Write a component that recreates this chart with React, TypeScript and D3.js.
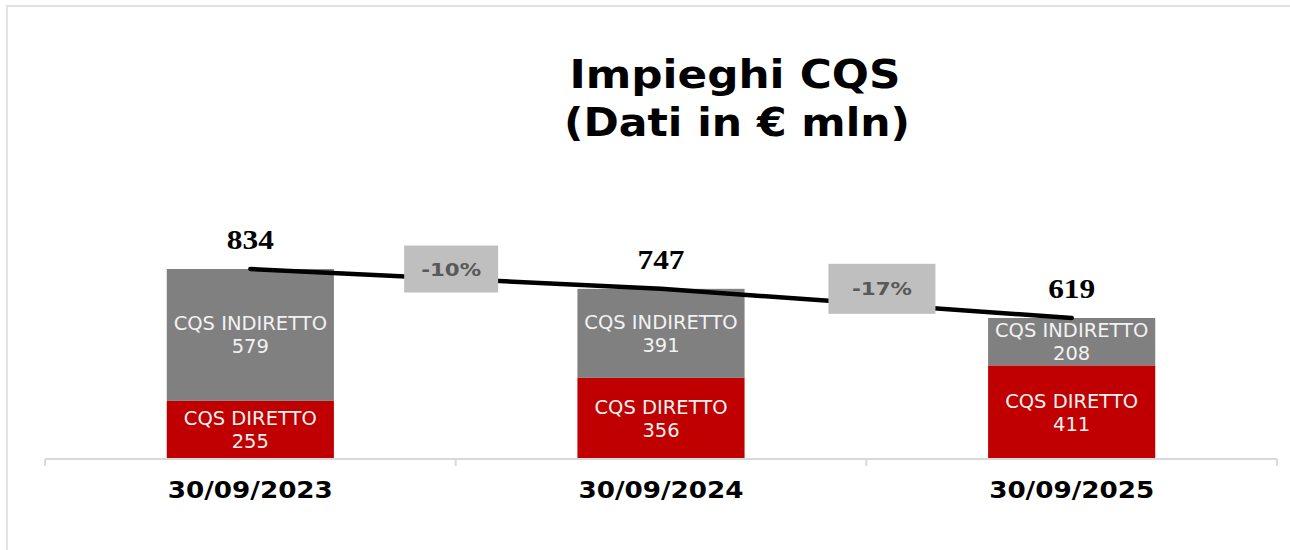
import * as d3 from "d3";
import React from "react";

// chart data
const categories = ["30/09/2023", "30/09/2024", "30/09/2025"];
const diretto = [255, 356, 411];
const indiretto = [579, 391, 208];
const changeLabels = ["-10%", "-17%"];

const titleLines = ["Impieghi CQS", "(Dati in € mln)"];
const seriesNames = { diretto: "CQS DIRETTO", indiretto: "CQS INDIRETTO" };

// layout
const width = 1290;
const height = 550;
const axisLeft = 45;
const axisRight = 1277;
const baseY = 459;
const yTop = 231.2;
const barFrac = 0.407;
// where the change boxes sit, in category steps from the first center
const changeOffsets = [0.489, 1.538];
const changeBoxSizes = [
  { w: 94, h: 47 },
  { w: 107, h: 50 },
];

const colors = {
  diretto: "#c00000",
  indiretto: "#808080",
  box: "#bfbfbf",
  boxText: "#595959",
  axis: "#d9d9d9",
  border: "#d9d9d9",
};

const sans = "Verdana, 'DejaVu Sans', sans-serif";
const serif = "'Times New Roman', 'Liberation Serif', serif";

const totals = diretto.map((d, i) => d + indiretto[i]);

const App = () => {
  const x = d3
    .scaleBand<string>()
    .domain(categories)
    .range([axisLeft, axisRight])
    .paddingInner(1 - barFrac)
    .paddingOuter((1 - barFrac) / 2);

  const y = d3.scaleLinear().domain([0, 1000]).range([baseY, yTop]);

  const step = x.step();
  const bw = x.bandwidth();
  const cx = (c: string) => (x(c) as number) + bw / 2;

  const boundaries = d3.range(categories.length + 1).map((i) => axisLeft + i * step);

  const line = d3
    .line<number>()
    .x((_, i) => cx(categories[i]))
    .y((d) => y(d));

  const segLabel = (
    key: string,
    xc: number,
    y0: number,
    y1: number,
    name: string,
    value: number
  ) => {
    const mid = (y0 + y1) / 2;
    return (
      <text
        key={key}
        x={xc}
        textAnchor="middle"
        fill="#f2f2f2"
        fontFamily={sans}
        fontSize={19.5}
      >
        <tspan x={xc} y={mid - 4.5}>
          {name}
        </tspan>
        <tspan x={xc} y={mid + 18.5}>
          {value}
        </tspan>
      </text>
    );
  };

  return (
    <svg
      width={width}
      height={height}
      style={{ position: "absolute", left: 0, top: 0, background: "#fff" }}
    >
      <rect
        x={7}
        y={6}
        width={width + 10}
        height={height + 10}
        fill="none"
        stroke={colors.border}
        strokeWidth={1.5}
      />

      <g fontFamily={sans} fontWeight="bold" fill="#000" textAnchor="middle">
        <text x={735} y={87.7} fontSize={39.5} textLength={331} lengthAdjust="spacingAndGlyphs">
          {titleLines[0]}
        </text>
        <text x={737} y={136} fontSize={39.5} textLength={346} lengthAdjust="spacingAndGlyphs">
          {titleLines[1]}
        </text>
      </g>

      {categories.map((c, i) => (
        <g key={c}>
          <rect
            x={x(c)}
            y={y(diretto[i])}
            width={bw}
            height={baseY - y(diretto[i])}
            fill={colors.diretto}
          />
          <rect
            x={x(c)}
            y={y(totals[i])}
            width={bw}
            height={y(diretto[i]) - y(totals[i])}
            fill={colors.indiretto}
          />
          {segLabel("d" + i, cx(c), y(diretto[i]), baseY, seriesNames.diretto, diretto[i])}
          {segLabel("n" + i, cx(c), y(totals[i]), y(diretto[i]), seriesNames.indiretto, indiretto[i])}
        </g>
      ))}

      <path
        d={line(totals) || ""}
        fill="none"
        stroke="#000"
        strokeWidth={4.5}
        strokeLinecap="round"
      />

      {changeLabels.map((lab, i) => {
        const bx = cx(categories[0]) + changeOffsets[i] * step;
        const by = y(totals[i]);
        const s = changeBoxSizes[i];
        return (
          <g key={lab}>
            <rect x={bx - s.w / 2} y={by - s.h / 2} width={s.w} height={s.h} fill={colors.box} />
            <text
              x={bx}
              y={by + 6.5}
              textAnchor="middle"
              fontFamily={sans}
              fontWeight="bold"
              fontSize={17.5}
              fill={colors.boxText}
              textLength={60}
              lengthAdjust="spacingAndGlyphs"
            >
              {lab}
            </text>
          </g>
        );
      })}

      {totals.map((t, i) => (
        <text
          key={"t" + i}
          x={cx(categories[i])}
          y={y(t) - 20}
          textAnchor="middle"
          fontFamily={serif}
          fontWeight="bold"
          fontSize={26.5}
          fill="#000"
          textLength={47}
          lengthAdjust="spacingAndGlyphs"
        >
          {t}
        </text>
      ))}

      <g stroke={colors.axis} strokeWidth={2} fill="none">
        <line x1={axisLeft} x2={axisRight} y1={baseY} y2={baseY} />
        {boundaries.map((b, i) => (
          <line key={i} x1={b} x2={b} y1={baseY} y2={baseY + 7} />
        ))}
      </g>

      {categories.map((c) => (
        <text
          key={"c" + c}
          x={cx(c)}
          y={498.3}
          textAnchor="middle"
          fontFamily={sans}
          fontWeight="bold"
          fontSize={23}
          fill="#000"
          textLength={165}
          lengthAdjust="spacingAndGlyphs"
        >
          {c}
        </text>
      ))}
    </svg>
  );
};

export default App;
